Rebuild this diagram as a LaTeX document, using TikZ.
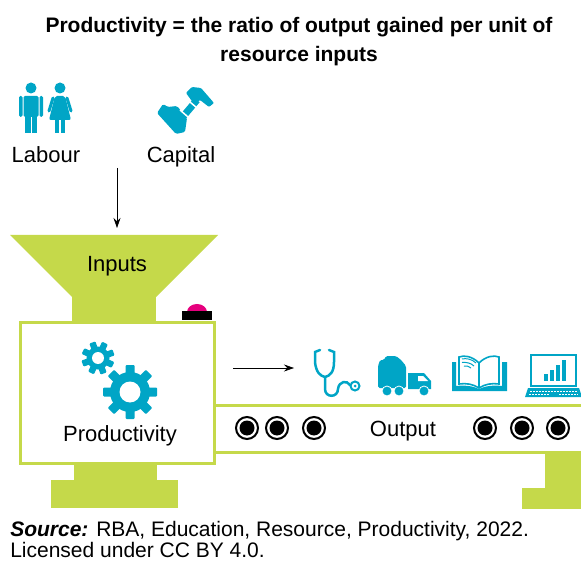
\documentclass[tikz,border=0pt]{standalone}
\usepackage{fontspec}
\setmainfont{Liberation Sans}
\usetikzlibrary{positioning, arrows.meta}

\definecolor{lime}{RGB}{197,217,74}
\definecolor{tealblue}{RGB}{0,165,198}
\definecolor{knob}{RGB}{230,0,126}

% cog: x, y, body radius, tooth length, hole radius, tooth half width, offset angle
\newcommand{\cog}[7]{%
  \fill[ico] (#1,#2) circle (#3pt);
  \foreach \a in {0,45,...,315}
    \fill[ico, shift={(#1,#2)}, rotate=\a+#7, rounded corners=1pt] (-#6,0) rectangle (#6,#4);
  \fill[white] (#1,#2) circle (#5pt);
}
% roller on the belt
\newcommand{\roller}[2]{%
  \draw[line width=2pt] (#1,#2) circle (11pt);
  \fill (#1,#2) circle (7.5pt);
}

\begin{document}
\begin{tikzpicture}[x=1pt, y=-1pt, semithick, >={Stealth[length=10pt, width=7pt]},
  lbl/.style={font=\fontsize{22}{26}\selectfont, inner sep=0pt, anchor=base},
  ico/.style={fill=tealblue},
  line/.style={draw=tealblue, line width=2.5pt, line cap=round},
  frame/.style={draw=lime, line width=3pt, fill=white},
  block/.style={fill=lime}]
\useasboundingbox (0,0) rectangle (581,561);

% heading
\node (title) [font=\bfseries\fontsize{21}{29}\selectfont, align=center, inner sep=0pt]
  at (299,42) {Productivity = the ratio of output gained per unit of\\resource inputs};

% labour: man and woman
\fill[ico] (31,88) circle (5.5pt);
\fill[ico, rounded corners=1.5pt] (23.5,96) rectangle (38.5,117);
\fill[ico, rounded corners=1.5pt] (19,96) rectangle (22.5,117);
\fill[ico, rounded corners=1.5pt] (39.5,96) rectangle (43,117);
\fill[ico] (25,116) rectangle (30.5,133);
\fill[ico] (31.5,116) rectangle (37,133);
\fill[ico] (60,88) circle (5.5pt);
\fill[ico, rounded corners=2pt] (55,96) -- (65,96) -- (71,120) -- (49,120) -- cycle;
\draw[line, line width=3pt] (53,98) -- (49,111);
\draw[line, line width=3pt] (67,98) -- (71,111);
\fill[ico] (55,119) rectangle (59,133);
\fill[ico] (61,119) rectangle (65,133);

% capital: hand holding a hammer
\fill[ico, rounded corners=1.5pt] (157,113) -- (163,104) -- (168,107) -- (177,106)
  -- (187,118) -- (185,132) -- (176,134) -- cycle;
\draw[line, line width=7pt, line cap=butt] (181,119) -- (197,100);
\draw[white, line width=1.5pt] (180,110) -- (188,117);
\draw[white, line width=1.5pt] (190,102) -- (197,108);
\fill[ico, rounded corners=1pt] (186,93) -- (192,87) -- (201,88) -- (214,103)
  -- (209,107) -- (200,100) -- (194,104) -- cycle;

\node (labour) [lbl] at (46,163) {Labour};
\node (capital) [lbl] at (181,163) {Capital};

\coordinate (drop) at (117,168);
\coordinate (mouth) at (117,228);
\draw[->] (drop) -- (mouth);

% hopper
\fill[block] (10,235) -- (218,235) -- (156,297) -- (72,297) -- cycle;
\fill[block] (72,296) rectangle (156,324);
\node (inputs) [lbl] at (117,272) {Inputs};

% start button
\fill[knob] (187,312) arc[start angle=180, end angle=0, x radius=10pt, y radius=8pt] -- cycle;
\fill (182,311) rectangle (212,320);

% belt and its legs
\fill[block] (545,452) rectangle (581,489);
\fill[block] (522,488) rectangle (581,509);
\draw[lime, line width=3pt] (212,405) -- (581,405);
\draw[lime, line width=3pt] (212,452) -- (581,452);
\foreach \x in {247,277,314,485,522,558} { \roller{\x}{428} }
\node (output) [lbl] at (403,436) {Output};

% machine body
\fill[block] (74,462) rectangle (157,481);
\fill[block] (51,480) rectangle (178,508);
\draw[frame] (20,323) rectangle (214,463);
\cog{98}{358}{11.5}{16.5}{6}{3.2}{20}
\cog{130}{392}{20}{27}{10.5}{4.5}{0}
\node (prod) [lbl] at (120,441) {Productivity};

\coordinate (feed) at (233,368);
\coordinate (goods) at (294,368);
\draw[->] (feed) -- (goods);

% stethoscope
\draw[line] (320,350) -- (315,352) -- (315,362)
  .. controls (316,372) and (320,376) .. (325,377)
  .. controls (330,376) and (334,372) .. (334,362) -- (334,352) -- (329,350);
\draw[line] (325,377) -- (325,389)
  .. controls (325,398) and (338,398) .. (338,389)
  .. controls (339,381) and (347,380) .. (350,385);
\draw[tealblue, line width=2pt] (355,386) circle (4.5pt);
\fill[ico] (355,386) circle (1.5pt);

% truck
\fill[ico, rounded corners=1.5pt] (378,366) -- (380,360) -- (384,360) -- (386,356)
  -- (396,356) -- (401,360) -- (406,366) -- (406,388) -- (378,388) -- cycle;
\fill[ico] (408,373) -- (424,373) -- (431,381) -- (431,389) -- (408,389) -- cycle;
\fill[white] (418,376) -- (423,376) -- (428,381) -- (418,381) -- cycle;
\foreach \x in {387,399,424} {
  \fill[ico] (\x,391) circle (5pt);
  \draw[white, line width=0.8pt] (\x,391) circle (5pt);
}

% book
\fill[ico] (452,362) -- (456,362) -- (456,386) .. controls (465,385) and (473,386) .. (479,389)
  .. controls (485,386) and (493,385) .. (502,386) -- (502,362) -- (507,362) -- (507,391)
  -- (452,391) -- cycle;
\draw[tealblue, line width=1.6pt, fill=white] (479,363) .. controls (472,356) and (464,355) .. (459,357)
  -- (459,384) .. controls (466,383) and (473,384) .. (479,388)
  .. controls (485,384) and (492,383) .. (499,384) -- (499,357)
  .. controls (494,355) and (486,356) .. (479,363) -- (479,388);
\draw[tealblue, line width=1pt] (462,359) .. controls (466,358) and (472,359) .. (476,363)
  (462,362.5) .. controls (466,362) and (471,363) .. (474,366);
\draw[tealblue, line width=1pt] (464,366) .. controls (467,366) and (469,366) .. (471,368);

% laptop
\draw[tealblue, line width=2.5pt] (531,355) rectangle (576,386);
\fill[ico] (544,374) rectangle (548,381);
\fill[ico] (550,370) rectangle (554,381);
\fill[ico] (556,365) rectangle (560,381);
\fill[ico] (562,360) rectangle (566,381);
\fill[ico] (528,388) -- (579,388) -- (582,397) -- (525,397) -- cycle;
\draw[white, line width=0.8pt, dash pattern=on 2pt off 1pt] (530,391) -- (577,391);
\draw[white, line width=0.8pt, dash pattern=on 2pt off 1pt] (529,394) -- (550,394) (559,394) -- (578,394);

% credit line
\node (source) [font=\fontsize{21}{21}\selectfont, align=left, inner sep=0pt, anchor=base west]
  at (10,557) {\textbf{\textit{Source:}} RBA, Education, Resource, Productivity, 2022.\\Licensed under CC BY 4.0.};
\end{tikzpicture}
\end{document}
